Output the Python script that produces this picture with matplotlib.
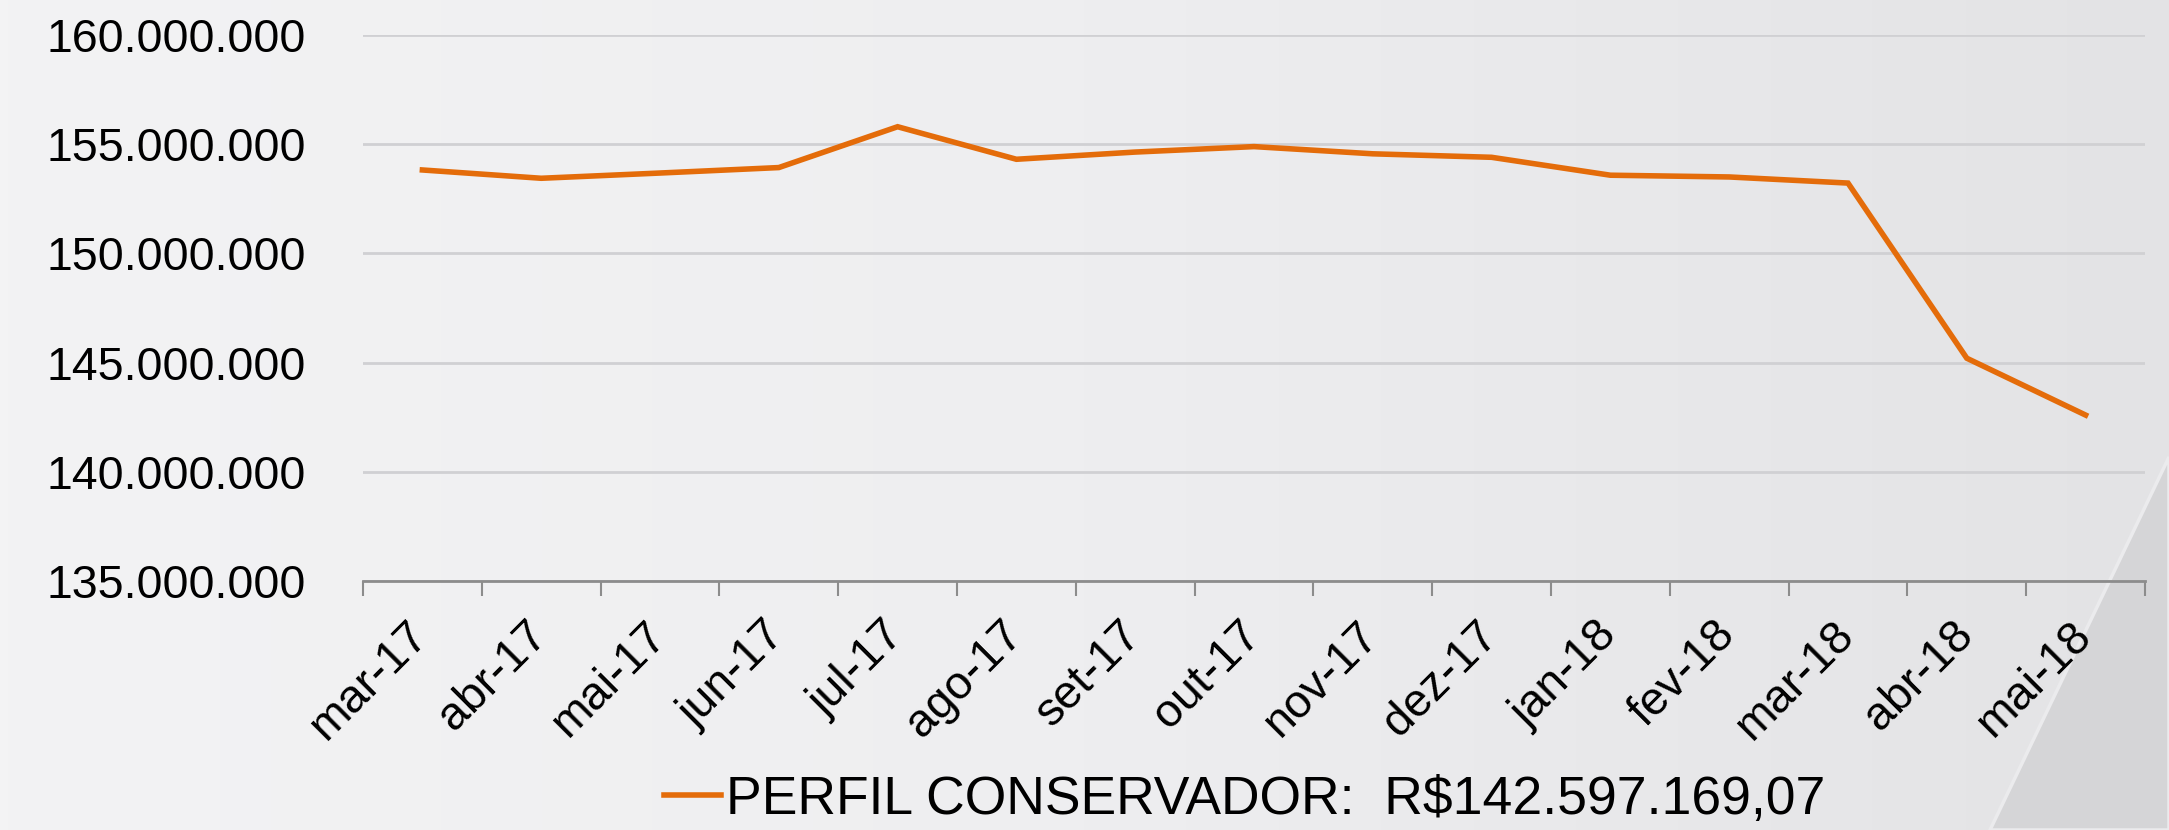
import numpy as np
import matplotlib.pyplot as plt
from matplotlib.patches import Polygon
from matplotlib.ticker import FuncFormatter
from matplotlib.transforms import ScaledTranslation

plt.rcParams['font.family'] = ['Liberation Sans', 'DejaVu Sans']

# dados (R$)
meses = ['mar-17', 'abr-17', 'mai-17', 'jun-17', 'jul-17', 'ago-17', 'set-17', 'out-17',
         'nov-17', 'dez-17', 'jan-18', 'fev-18', 'mar-18', 'abr-18', 'mai-18']
valores = [153.82e6, 153.44e6, 153.68e6, 153.93e6, 155.80e6, 154.31e6, 154.64e6, 154.89e6,
           154.56e6, 154.40e6, 153.58e6, 153.50e6, 153.22e6, 145.20e6, 142.597169e6]
rotulo = 'PERFIL CONSERVADOR:  R$142.597.169,07'

laranja = '#E46C0A'

fig = plt.figure(figsize=(21.69, 8.30), dpi=100)

# fundo em gradiente + triangulo no canto
bg = fig.add_axes([0, 0, 1, 1], zorder=-10)
grad = np.linspace(0, 1, 256).reshape(1, -1)
bg.imshow(grad, aspect='auto', cmap=plt.matplotlib.colors.LinearSegmentedColormap.from_list(
    'g', ['#f3f3f4', '#eeeef0', '#e3e3e5']), extent=[0, 1, 0, 1])
bg.add_patch(Polygon([(1.0, 1 - 457 / 830), (1990 / 2169, 0), (1.0, 0)], closed=True,
                     facecolor='#d5d5d7', edgecolor='#ebebed', lw=2.5))
bg.set_xlim(0, 1)
bg.set_ylim(0, 1)
bg.axis('off')

ax = fig.add_axes([363 / 2169, 1 - 581 / 830, (2145 - 363) / 2169, (581 - 35) / 830])
ax.patch.set_alpha(0)

x = np.arange(len(meses))
ax.plot(x, valores, color=laranja, lw=4, solid_joinstyle='miter', label=rotulo)

ax.set_xlim(-0.5, len(meses) - 0.5)
ax.set_ylim(135e6, 160e6)
ax.set_yticks(np.arange(135e6, 160e6 + 1, 5e6))
ax.yaxis.set_major_formatter(FuncFormatter(lambda v, p: f'{v:,.0f}'.replace(',', '.')))
ax.grid(axis='y', color='#d0d0d3', lw=2)
ax.set_axisbelow(True)

ax.set_xticks(x)
ax.set_xticklabels(meses, rotation=45, ha='right', va='top', rotation_mode='anchor')
ax.set_xticks(np.arange(-0.5, len(meses)), minor=True)
ax.tick_params(axis='x', which='major', length=0, pad=23, labelsize=33.5)
ax.tick_params(axis='x', which='minor', length=11, width=1.5, color='#8c8c8c')
ax.tick_params(axis='y', length=0, pad=41, labelsize=33.5)

# desloca os rotulos um pouco para a esquerda
desloc = ScaledTranslation(-16 / 100, 0, fig.dpi_scale_trans)
for t in ax.get_xticklabels():
    t.set_transform(t.get_transform() + desloc)

for s in ['top', 'right', 'left']:
    ax.spines[s].set_visible(False)
ax.spines['bottom'].set_color('#8c8c8c')
ax.spines['bottom'].set_linewidth(2)

fig.legend(loc='center', bbox_to_anchor=(1245 / 2169, 1 - 800 / 830), frameon=False, fontsize=38.5,
           handlelength=1.06, handletextpad=0.1)

fig.savefig('out.png', dpi=100)
